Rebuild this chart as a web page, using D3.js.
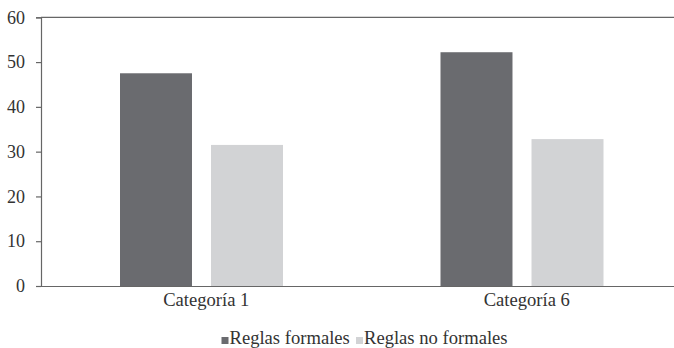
<!DOCTYPE html>
<html>
<head>
<meta charset="utf-8">
<script src="https://cdn.jsdelivr.net/npm/d3@7"></script>
<style>
  html, body { margin: 0; padding: 0; background: #fff; }
  svg { display: block; }
</style>
</head>
<body>
<svg id="chart" width="674" height="348"></svg>
<script>
// Chart data
const categories = ["Categoría 1", "Categoría 6"];
const seriesNames = ["Reglas formales", "Reglas no formales"];
const formales = [47.5, 52.2];
const noFormales = [31.5, 32.8];
const yTicks = [0, 10, 20, 30, 40, 50, 60];
const seriesColors = ["#6a6b6f", "#d2d3d5"];

const FONT = "'Liberation Serif', 'Times New Roman', Tinos, 'DejaVu Serif', serif";
const rows = categories.map((c, i) => ({ cat: c, values: [formales[i], noFormales[i]] }));

const svg = d3.select("#chart");
const plotLeft = 41, plotRight = 682, plotTop = 17.3, plotBottom = 286;

const y = d3.scaleLinear().domain([0, 60]).range([plotBottom, plotTop]);
const x0 = d3.scaleBand().domain(categories).range([plotLeft, plotRight]);
const x1 = d3.scaleBand().domain(seriesNames).range([79, 242]).paddingInner(0.209);
const color = d3.scaleOrdinal().domain(seriesNames).range(seriesColors);

// Bars
const groups = svg.append("g").selectAll("g").data(rows).join("g")
  .attr("transform", d => `translate(${x0(d.cat)},0)`);
groups.selectAll("rect")
  .data(d => d.values.map((v, j) => ({ key: seriesNames[j], v })))
  .join("rect")
  .attr("x", d => x1(d.key))
  .attr("width", x1.bandwidth())
  .attr("y", d => y(d.v))
  .attr("height", d => y(0) - y(d.v))
  .attr("fill", d => color(d.key));

// Y axis
const yAxis = svg.append("g")
  .attr("transform", `translate(${plotLeft},0)`)
  .call(d3.axisLeft(y).tickValues(yTicks).tickSize(5).tickPadding(11).tickFormat(d3.format("d")));
yAxis.select(".domain").attr("stroke", "#666").attr("stroke-width", 1.2);
yAxis.selectAll(".tick line").attr("stroke", "#666").attr("stroke-width", 1.2);
yAxis.selectAll(".tick text")
  .style("font-family", FONT)
  .style("font-size", "18px")
  .attr("fill", "#333");

// Top frame line
svg.append("line")
  .attr("x1", plotLeft).attr("x2", 674)
  .attr("y1", y(60)).attr("y2", y(60))
  .attr("stroke", "#666").attr("stroke-width", 1.2);

// Baseline and category labels
const xAxis = svg.append("g")
  .attr("transform", `translate(0,${plotBottom})`)
  .call(d3.axisBottom(x0).tickSize(0).tickPadding(7));
xAxis.select(".domain").attr("stroke", "#666").attr("stroke-width", 1.2);
xAxis.selectAll(".tick text")
  .style("font-family", FONT)
  .style("font-size", "18.6px")
  .attr("fill", "#333")
  .attr("dx", 5);

// Legend
const legendItems = [
  { name: seriesNames[0], sx: 221.5 },
  { name: seriesNames[1], sx: 356 }
];
const legend = svg.append("g");
legendItems.forEach(it => {
  legend.append("rect")
    .attr("x", it.sx).attr("y", 337)
    .attr("width", 7).attr("height", 7)
    .attr("fill", color(it.name));
  legend.append("text")
    .attr("x", it.sx + 8).attr("y", 344)
    .style("font-family", FONT)
    .style("font-size", "18.6px")
    .attr("fill", "#333")
    .text(it.name);
});
</script>
</body>
</html>
